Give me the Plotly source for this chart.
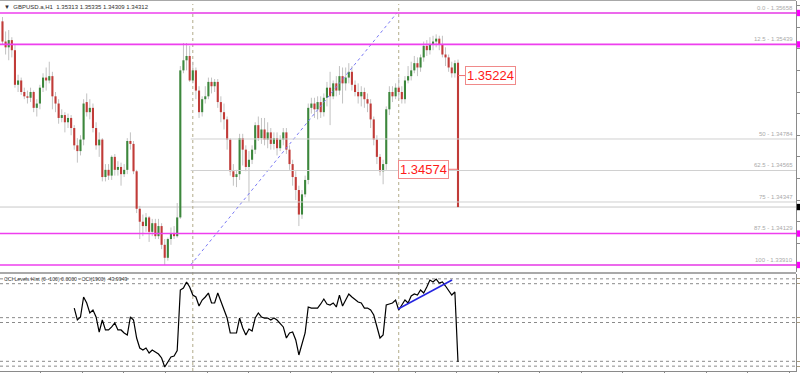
import plotly.graph_objects as go

HEADER = "GBPUSD.a,H1  1.35313 1.35335 1.34309 1.34312"
CCI_LABEL = "CCI Levels Hist (0--100) 0.0000 - CCI(1900) -43.9949"

OPEN = [1.3560, 1.3546, 1.3542, 1.3547, 1.3540, 1.3516, 1.3519, 1.3511, 1.3508, 1.3507,
        1.3511, 1.3500, 1.3503, 1.3514, 1.3521, 1.3519, 1.3522, 1.3508, 1.3503, 1.3493,
        1.3495, 1.3490, 1.3493, 1.3486, 1.3474, 1.3470, 1.3478, 1.3504, 1.3497, 1.3500,
        1.3486, 1.3474, 1.3478, 1.3452, 1.3457, 1.3453, 1.3466, 1.3457, 1.3459, 1.3454,
        1.3457, 1.3477, 1.3475, 1.3456, 1.3430, 1.3421, 1.3418, 1.3424, 1.3414, 1.3420,
        1.3411, 1.3418, 1.3405, 1.3396, 1.3409, 1.3413, 1.3411, 1.3424, 1.3526, 1.3533,
        1.3536, 1.3519, 1.3526, 1.3512, 1.3497, 1.3506, 1.3508, 1.3518, 1.3515, 1.3518,
        1.3504, 1.3497, 1.3492, 1.3478, 1.3456, 1.3452, 1.3454, 1.3479, 1.3471, 1.3459,
        1.3464, 1.3471, 1.3488, 1.3479, 1.3485, 1.3478, 1.3483, 1.3475, 1.3479, 1.3472,
        1.3478, 1.3483, 1.3471, 1.3461, 1.3452, 1.3443, 1.3426, 1.3440, 1.3450, 1.3500,
        1.3503, 1.3499, 1.3504, 1.3497, 1.3507, 1.3514, 1.3508, 1.3517, 1.3512, 1.3522,
        1.3517, 1.3521, 1.3525, 1.3516, 1.3511, 1.3508, 1.3511, 1.3506, 1.3503, 1.3492,
        1.3478, 1.3466, 1.3456, 1.3461, 1.3499, 1.3511, 1.3508, 1.3514, 1.3511, 1.3506,
        1.3519, 1.3522, 1.3526, 1.3531, 1.3528, 1.3535, 1.3543, 1.3540, 1.3544, 1.3546,
        1.3548, 1.3544, 1.3537, 1.3535, 1.3528, 1.3524, 1.35313]
HIGH = [1.3563, 1.3553, 1.3554, 1.3549, 1.3544, 1.3523, 1.3521, 1.3514, 1.3512, 1.3514,
        1.3512, 1.3506, 1.3516, 1.3524, 1.3528, 1.3532, 1.3525, 1.3511, 1.3506, 1.3499,
        1.3497, 1.3496, 1.3495, 1.3488, 1.3479, 1.3481, 1.3506, 1.3510, 1.3506, 1.3503,
        1.3490, 1.3483, 1.3479, 1.3461, 1.3461, 1.3467, 1.3468, 1.3463, 1.3462, 1.3461,
        1.3479, 1.3483, 1.3477, 1.3457, 1.3432, 1.3426, 1.3427, 1.3425, 1.3423, 1.3423,
        1.3423, 1.3420, 1.3409, 1.3410, 1.3417, 1.3418, 1.3434, 1.3529, 1.3545, 1.3545,
        1.3543, 1.3532, 1.3528, 1.3515, 1.3508, 1.3515, 1.3521, 1.3521, 1.3520, 1.3520,
        1.3508, 1.3503, 1.3494, 1.3479, 1.3461, 1.3457, 1.3482, 1.3482, 1.3474, 1.3470,
        1.3474, 1.3490, 1.3494, 1.3493, 1.3493, 1.3490, 1.3486, 1.3483, 1.3483, 1.3481,
        1.3486, 1.3486, 1.3474, 1.3464, 1.3456, 1.3446, 1.3443, 1.3453, 1.3503, 1.3507,
        1.3507, 1.3508, 1.3508, 1.3510, 1.3518, 1.3525, 1.3519, 1.3522, 1.3529, 1.3528,
        1.3528, 1.3531, 1.3529, 1.3519, 1.3517, 1.3515, 1.3514, 1.3510, 1.3506, 1.3494,
        1.3481, 1.3468, 1.3464, 1.3501, 1.3515, 1.3515, 1.3517, 1.3521, 1.3515, 1.3522,
        1.3529, 1.3532, 1.3536, 1.3535, 1.3537, 1.3546, 1.3547, 1.3549, 1.3550, 1.3551,
        1.3550, 1.3550, 1.3542, 1.3537, 1.3532, 1.3533, 1.35335]
LOW = [1.3544, 1.3537, 1.3533, 1.3535, 1.3514, 1.3511, 1.3509, 1.3506, 1.3503, 1.3504,
       1.3497, 1.3494, 1.3499, 1.3511, 1.3512, 1.3517, 1.3499, 1.3497, 1.3489, 1.3490,
       1.3483, 1.3486, 1.3481, 1.3471, 1.3462, 1.3467, 1.3474, 1.3494, 1.3492, 1.3483,
       1.3471, 1.3466, 1.3449, 1.3449, 1.3450, 1.3450, 1.3453, 1.3453, 1.3446, 1.3452,
       1.3454, 1.3471, 1.3454, 1.3427, 1.3409, 1.3411, 1.3414, 1.3407, 1.3411, 1.3409,
       1.3409, 1.3402, 1.3391, 1.3394, 1.3405, 1.3409, 1.3410, 1.3423, 1.3524, 1.3526,
       1.3518, 1.3517, 1.3506, 1.3493, 1.3494, 1.3503, 1.3506, 1.3510, 1.3511, 1.3500,
       1.3490, 1.3485, 1.3471, 1.3453, 1.3446, 1.3445, 1.3450, 1.3460, 1.3456, 1.3435,
       1.3461, 1.3468, 1.3477, 1.3475, 1.3474, 1.3472, 1.3471, 1.3471, 1.3467, 1.3470,
       1.3474, 1.3468, 1.3457, 1.3446, 1.3436, 1.3418, 1.3423, 1.3438, 1.3447, 1.3496,
       1.3493, 1.3492, 1.3493, 1.3494, 1.3501, 1.3488, 1.3506, 1.3508, 1.3509, 1.3503,
       1.3512, 1.3517, 1.3512, 1.3508, 1.3503, 1.3501, 1.3500, 1.3497, 1.3486, 1.3474,
       1.3461, 1.3453, 1.3447, 1.3457, 1.3495, 1.3504, 1.3506, 1.3506, 1.3503, 1.3503,
       1.3517, 1.3519, 1.3524, 1.3522, 1.3525, 1.3532, 1.3536, 1.3537, 1.3540, 1.3542,
       1.3540, 1.3535, 1.3529, 1.3525, 1.3521, 1.3521, 1.34309]
CLOSE = [1.3546, 1.3542, 1.3547, 1.3540, 1.3516, 1.3519, 1.3511, 1.3508, 1.3507, 1.3511,
         1.3500, 1.3503, 1.3514, 1.3521, 1.3519, 1.3522, 1.3508, 1.3503, 1.3493, 1.3495,
         1.3490, 1.3493, 1.3486, 1.3474, 1.3470, 1.3478, 1.3503, 1.3497, 1.3500, 1.3486,
         1.3474, 1.3478, 1.3452, 1.3457, 1.3453, 1.3466, 1.3457, 1.3459, 1.3454, 1.3457,
         1.3477, 1.3475, 1.3456, 1.3430, 1.3421, 1.3418, 1.3424, 1.3414, 1.3420, 1.3411,
         1.3418, 1.3405, 1.3396, 1.3409, 1.3413, 1.3411, 1.3424, 1.3526, 1.3533, 1.3536,
         1.3519, 1.3526, 1.3512, 1.3497, 1.3506, 1.3508, 1.3518, 1.3515, 1.3518, 1.3504,
         1.3497, 1.3492, 1.3478, 1.3456, 1.3452, 1.3454, 1.3479, 1.3471, 1.3459, 1.3464,
         1.3471, 1.3488, 1.3479, 1.3485, 1.3478, 1.3483, 1.3475, 1.3479, 1.3472, 1.3478,
         1.3483, 1.3471, 1.3461, 1.3452, 1.3443, 1.3426, 1.3440, 1.3450, 1.3500, 1.3503,
         1.3499, 1.3504, 1.3497, 1.3507, 1.3514, 1.3508, 1.3517, 1.3512, 1.3522, 1.3517,
         1.3521, 1.3525, 1.3516, 1.3511, 1.3508, 1.3511, 1.3506, 1.3503, 1.3492, 1.3478,
         1.3466, 1.3456, 1.3461, 1.3499, 1.3511, 1.3508, 1.3514, 1.3511, 1.3506, 1.3519,
         1.3522, 1.3526, 1.3531, 1.3528, 1.3535, 1.3543, 1.3540, 1.3544, 1.3546, 1.3548,
         1.3544, 1.3537, 1.3535, 1.3528, 1.3524, 1.3531, 1.34312]

CCI_START = 23
CCI = [-35.1, -47.4, -44.3, -23.7, -29.9, -40.2, -37.1, -44.3, -59.8, -47.4,
       -57.7, -57.7, -54.6, -50.5, -57.7, -57.7, -60.8, -62.9, -44.3, -47.4,
       -66.0, -76.3, -78.4, -76.3, -81.4, -78.4, -80.4, -82.5, -86.6, -95.9,
       -90.7, -85.6, -84.5, -79.0, -16.5, -14.4, -8.2, -13.4, -21.7, -23.7,
       -33.0, -26.8, -23.7, -19.6, -29.9, -29.9, -19.6, -28.9, -38.1, -45.4,
       -60.8, -60.8, -60.8, -45.4, -55.7, -62.9, -56.7, -58.8, -45.4, -40.2,
       -44.3, -45.4, -45.4, -47.4, -45.4, -47.4, -50.5, -54.6, -66.0, -60.8,
       -59.8, -68.0, -83.5, -71.1, -60.8, -34.0, -35.1, -35.1, -35.1, -30.9,
       -25.8, -30.9, -32.0, -29.9, -34.0, -21.7, -33.0, -26.8, -20.6, -23.7,
       -26.8, -28.9, -29.9, -35.1, -35.1, -37.1, -42.3, -53.6, -66.0, -62.9,
       -32.0, -30.9, -29.9, -26.8, -37.1, -32.0, -26.8, -29.9, -22.7, -20.6,
       -21.7, -16.5, -19.6, -13.4, -6.2, -8.2, -5.2, -9.3, -8.2, -12.4,
       -16.5, -21.7, -18.6, -90.7]
CCI_LEVELS = [-5, -10, -45, -50, -90, -95]

# Fibonacci retracement anchors (bar index, price)
FIB_BARS = [60.3, 126.4]
FIB_PRICES = [1.33910, 1.35658]
FIB_PCTS = [0.0, 12.5, 50, 62.5, 75, 87.5, 100]
FIB_NAMES = ["0.0", "12.5", "50", "62.5", "75", "87.5", "100"]

MAGENTA_LEVELS = [1.35658, 1.35440, 1.34128, 1.33910]
VLINE_BARS = [61, 127]
CCI_TREND_BARS = [126.8, 144.1]
CCI_TREND_VALS = [-36.1, -6.2]
PRICE_LABELS = [1.35224, 1.34574]

# ---------------- layout geometry ----------------
W, H = 800, 373
PLOT_W = 796
PX_PER_BAR = 3.12
LAST_PX = 458
N = len(OPEN)
X0 = (N - 1) - LAST_PX / PX_PER_BAR
X1 = X0 + PLOT_W / PX_PER_BAR
PRICE_RANGE = [1.338614, 1.357412]
MAIN_TOP, MAIN_BOT = 1, 272
CCI_TOP, CCI_BOT = 274, 371
MIN_BODY = 0.00005


def py(px):
    return 1 - px / H


BULL = "#3c873c"
BEAR = "#c13b38"
WICK = "#c2c2c2"
FONT = "Liberation Sans, Arial, sans-serif"

fig = go.Figure()

# wicks
wx, wy = [], []
for i in range(N):
    wx += [i, i, None]
    wy += [LOW[i], HIGH[i], None]
fig.add_trace(go.Scatter(x=wx, y=wy, mode="lines", line=dict(color=WICK, width=1),
                         hoverinfo="skip", showlegend=False))

# bodies (thick line segments, drawn above the wicks)
for is_bull, colr in [(True, BULL), (False, BEAR)]:
    bx, by = [], []
    for i in range(N):
        o, c = OPEN[i], CLOSE[i]
        if (c >= o) != is_bull:
            continue
        lo_b, hi_b = min(o, c), max(o, c)
        if hi_b - lo_b < MIN_BODY:
            mid = (hi_b + lo_b) / 2
            lo_b, hi_b = mid - MIN_BODY / 2, mid + MIN_BODY / 2
        bx += [i, i, None]
        by += [lo_b, hi_b, None]
    fig.add_trace(go.Scatter(x=bx, y=by, mode="lines", line=dict(color=colr, width=2.1),
                             hoverinfo="skip", showlegend=False))

# fib diagonal
fig.add_trace(go.Scatter(x=FIB_BARS, y=FIB_PRICES, mode="lines",
                         line=dict(color="#7b7bf5", width=1, dash="dot"),
                         hoverinfo="skip", showlegend=False))

# fib level lines (from first anchor to the right edge)
hi, lo = FIB_PRICES[1], FIB_PRICES[0]
fib_vals = [hi - (hi - lo) * p / 100 for p in FIB_PCTS]
for v in fib_vals:
    fig.add_trace(go.Scatter(x=[FIB_BARS[0], X1 + 5], y=[v, v], mode="lines",
                             line=dict(color="#d0d0d0", width=1),
                             hoverinfo="skip", showlegend=False))

# CCI line
fig.add_trace(go.Scatter(x=list(range(CCI_START, CCI_START + len(CCI))), y=CCI,
                         mode="lines", line=dict(color="#000000", width=1.2),
                         xaxis="x", yaxis="y2", hoverinfo="skip", showlegend=False))
# CCI trendline
fig.add_trace(go.Scatter(x=CCI_TREND_BARS, y=CCI_TREND_VALS, mode="lines",
                         line=dict(color="#2525e0", width=1.5),
                         xaxis="x", yaxis="y2", hoverinfo="skip", showlegend=False))

shapes = []
# bid line
shapes.append(dict(type="line", xref="paper", x0=0, x1=1, yref="y",
                   y0=CLOSE[-1], y1=CLOSE[-1], line=dict(color="#c8c8c8", width=1),
                   layer="below"))
# magenta lines
for v in MAGENTA_LEVELS:
    shapes.append(dict(type="line", xref="paper", x0=0, x1=1, yref="y", y0=v, y1=v,
                       line=dict(color="#ee3fee", width=1.6)))
    shapes.append(dict(type="rect", xref="paper", x0=1.001, x1=1.006, yref="y",
                       y0=v - 0.00022, y1=v + 0.00022, fillcolor="#ff00ff",
                       line=dict(width=0)))
shapes.append(dict(type="rect", xref="paper", x0=1.001, x1=1.006, yref="y",
                   y0=CLOSE[-1] - 0.00022, y1=CLOSE[-1] + 0.00022,
                   fillcolor="#000000", line=dict(width=0)))
# CCI levels
for v in CCI_LEVELS:
    shapes.append(dict(type="line", xref="paper", x0=0, x1=1, yref="y2", y0=v, y1=v,
                       line=dict(color="#8a8a8a", width=1, dash="dot"), layer="below"))
# vertical separators
for b in VLINE_BARS:
    shapes.append(dict(type="line", xref="x", x0=b, x1=b, yref="paper",
                       y0=py(CCI_BOT), y1=py(MAIN_TOP + 3),
                       line=dict(color="#b3ac8a", width=1, dash="dot"), layer="below"))
# pane separator and top border
shapes.append(dict(type="line", xref="paper", x0=0, x1=1, yref="paper",
                   y0=py(273), y1=py(273), line=dict(color="#8c8c8c", width=1.5)))
shapes.append(dict(type="line", xref="paper", x0=0, x1=1, yref="paper",
                   y0=py(0.5), y1=py(0.5), line=dict(color="#a8a8a8", width=1)))

annotations = []
annotations.append(dict(xref="paper", yref="paper", x=0.003, y=py(6.5),
                        xanchor="left", yanchor="middle", showarrow=False,
                        text="\u25bc  " + HEADER,
                        font=dict(family=FONT, size=6, color="#303030")))
annotations.append(dict(xref="paper", yref="paper", x=0.002, y=py(279),
                        xanchor="left", yanchor="middle", showarrow=False,
                        text=CCI_LABEL, font=dict(family=FONT, size=5.2, color="#404040")))
for name, v in zip(FIB_NAMES, fib_vals):
    annotations.append(dict(xref="paper", yref="y", x=0.999, y=v, xanchor="right",
                            yanchor="bottom", showarrow=False,
                            text=f"{name} - {v:.5f}",
                            font=dict(family=FONT, size=6, color="#aaaaaa")))
for v, ax in zip(PRICE_LABELS, [32, -35]):
    annotations.append(dict(xref="x", yref="y", x=N - 1, y=v, text=f"{v:.5f}",
                            showarrow=True, arrowhead=0, arrowwidth=1,
                            arrowcolor="#f07070", ax=ax, ay=0, standoff=0,
                            font=dict(family=FONT, size=13, color="#ff1a1a"),
                            bgcolor="#ffffff", bordercolor="#f08a8a",
                            borderwidth=1, borderpad=1))

fig.update_layout(
    width=W, height=H,
    margin=dict(l=0, r=W - PLOT_W, t=0, b=0),
    paper_bgcolor="#ffffff", plot_bgcolor="#ffffff",
    showlegend=False,
    shapes=shapes, annotations=annotations,
    xaxis=dict(domain=[0, 1], range=[X0, X1], anchor="y2", showgrid=False,
               zeroline=False, showline=True, linecolor="#8a8a8a", linewidth=1,
               ticks="outside", ticklen=2, tickcolor="#8a8a8a",
               tick0=12.25, dtick=13.33, showticklabels=False, fixedrange=True),
    yaxis=dict(domain=[py(MAIN_BOT), py(MAIN_TOP)], range=PRICE_RANGE, side="right",
               anchor="x", showgrid=False, zeroline=False, showline=True,
               linecolor="#8a8a8a", ticks="outside", ticklen=3, tickcolor="#8a8a8a",
               tick0=1.3541, dtick=0.0015, showticklabels=False, fixedrange=True),
    yaxis2=dict(domain=[py(CCI_BOT), py(CCI_TOP)], range=[-100, 0], side="right",
                anchor="x", showgrid=False, zeroline=False, showline=True,
                linecolor="#8a8a8a", ticks="outside", ticklen=3, tickcolor="#a89a7c",
                tickvals=CCI_LEVELS, showticklabels=False, fixedrange=True),
)

fig.write_html("out.html", config={"displayModeBar": False})
